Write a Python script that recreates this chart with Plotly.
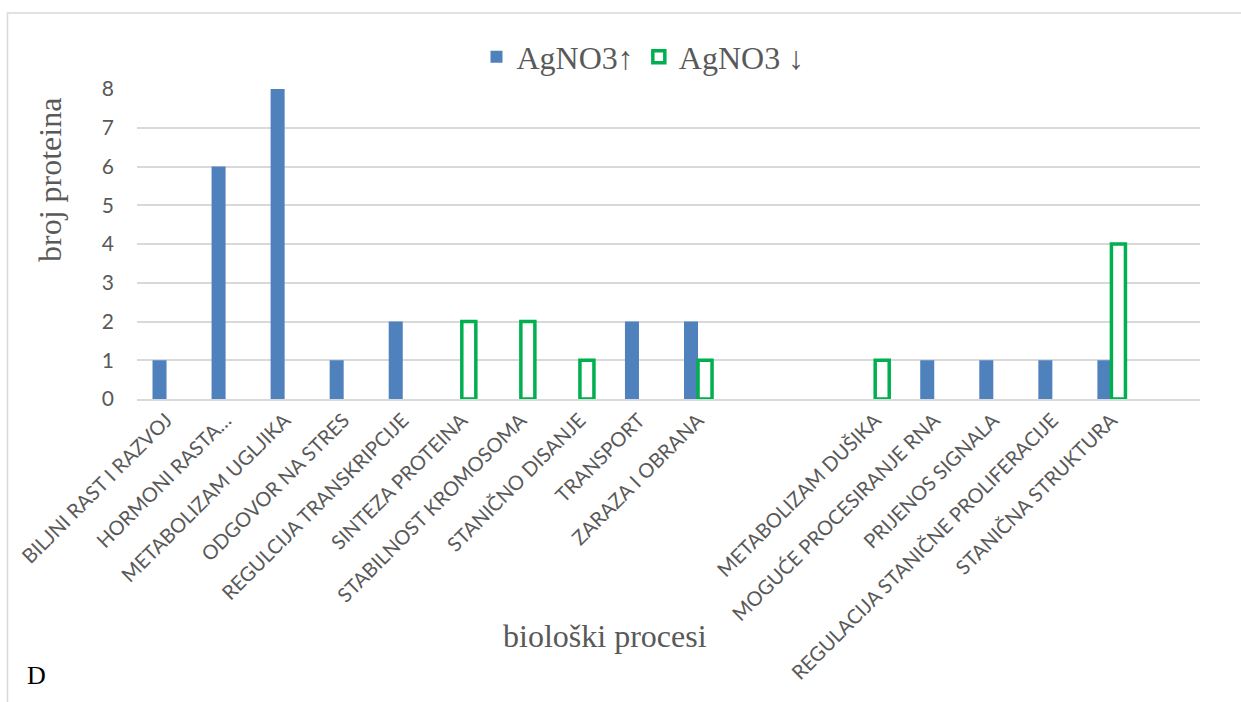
import plotly.graph_objects as go

categories = ["BILJNI RAST I RAZVOJ", "HORMONI RASTA…", "METABOLIZAM UGLJIKA", "ODGOVOR NA STRES",
              "REGULCIJA TRANSKRIPCIJE", "SINTEZA PROTEINA", "STABILNOST KROMOSOMA", "STANIČNO DISANJE",
              "TRANSPORT", "ZARAZA I OBRANA", "", "", "METABOLIZAM DUŠIKA", "MOGUĆE PROCESIRANJE RNA",
              "PRIJENOS SIGNALA", "REGULACIJA STANIČNE PROLIFERACIJE", "STANIČNA STRUKTURA", ""]
up_values = [1, 6, 8, 1, 2, None, None, None, 2, 2, None, None, None, 1, 1, 1, 1, None]
down_values = [None, None, None, None, None, 2, 2, 1, None, 1, None, None, 1, None, None, None, 4, None]
y_ticks = [0, 1, 2, 3, 4, 5, 6, 7, 8]

positions = list(range(len(categories)))

L, R, T, B = 137, 41, 89, 303
W, H = 1241, 702
pw, ph = W - L - R, H - T - B

def px(x):
    return (x - L) / pw

def py(y):
    return (H - B - y) / ph

fig = go.Figure()
fig.add_trace(go.Bar(x=positions, y=up_values, name="AgNO3↑",
                     marker=dict(color="#4F81BD", line=dict(width=0))))
fig.add_trace(go.Bar(x=positions, y=down_values, name="AgNO3 ↓",
                     marker=dict(color="rgba(255,255,255,1)", line=dict(color="#00B050", width=3.5))))

sans = "Lato, Open Sans, sans-serif"
serif = "Liberation Serif, Times New Roman, serif"
tick_font = dict(family=sans, size=20, color="#595959")
title_font = dict(family=serif, size=32, color="#595959")

fig.update_layout(
    width=W, height=H,
    margin=dict(l=L, r=R, t=T, b=B, autoexpand=False),
    paper_bgcolor="white", plot_bgcolor="white",
    barmode="group", bargap=0.525, bargroupgap=0,
    showlegend=True,
    legend=dict(orientation="h", x=px(643), xanchor="center", y=py(57), yanchor="middle",
                font=dict(family=serif, size=32, color="#595959"),
                itemwidth=30, tracegroupgap=0, bgcolor="rgba(0,0,0,0)"),
    xaxis=dict(range=[-0.5, len(categories) - 0.5], tickmode="array", tickvals=positions,
               ticktext=categories, tickangle=-45, tickfont=tick_font, showgrid=False,
               zeroline=False, showline=True, linecolor="#d9d9d9", linewidth=1.5, ticks=""),
    yaxis=dict(range=[0, 8], tickmode="array", tickvals=y_ticks, tickfont=dict(family=sans, size=21, color="#595959"),
               showgrid=True, gridcolor="#d9d9d9", gridwidth=1.5, zeroline=False, showline=False,
               ticks="", ticklabelstandoff=22),
    annotations=[
        dict(text="biološki procesi", xref="paper", yref="paper", x=px(605), y=py(636),
             xanchor="center", yanchor="middle", showarrow=False, font=title_font),
        dict(text="broj proteina", xref="paper", yref="paper", x=px(50), y=py(180),
             xanchor="center", yanchor="middle", showarrow=False, textangle=-90, font=title_font),
        dict(text="D", xref="paper", yref="paper", x=px(36), y=py(675),
             xanchor="center", yanchor="middle", showarrow=False,
             font=dict(family=serif, size=26, color="black")),
    ],
    shapes=[
        dict(type="rect", xref="paper", yref="paper", x0=px(7.5), y0=py(760), x1=px(1260), y1=py(13),
             line=dict(color="#d9d9d9", width=1.5), fillcolor="rgba(0,0,0,0)", layer="below"),
    ],
)

fig.write_html("out.html", config={"displayModeBar": False},
               post_script="document.body.style.margin='0';document.body.style.padding='0';")
